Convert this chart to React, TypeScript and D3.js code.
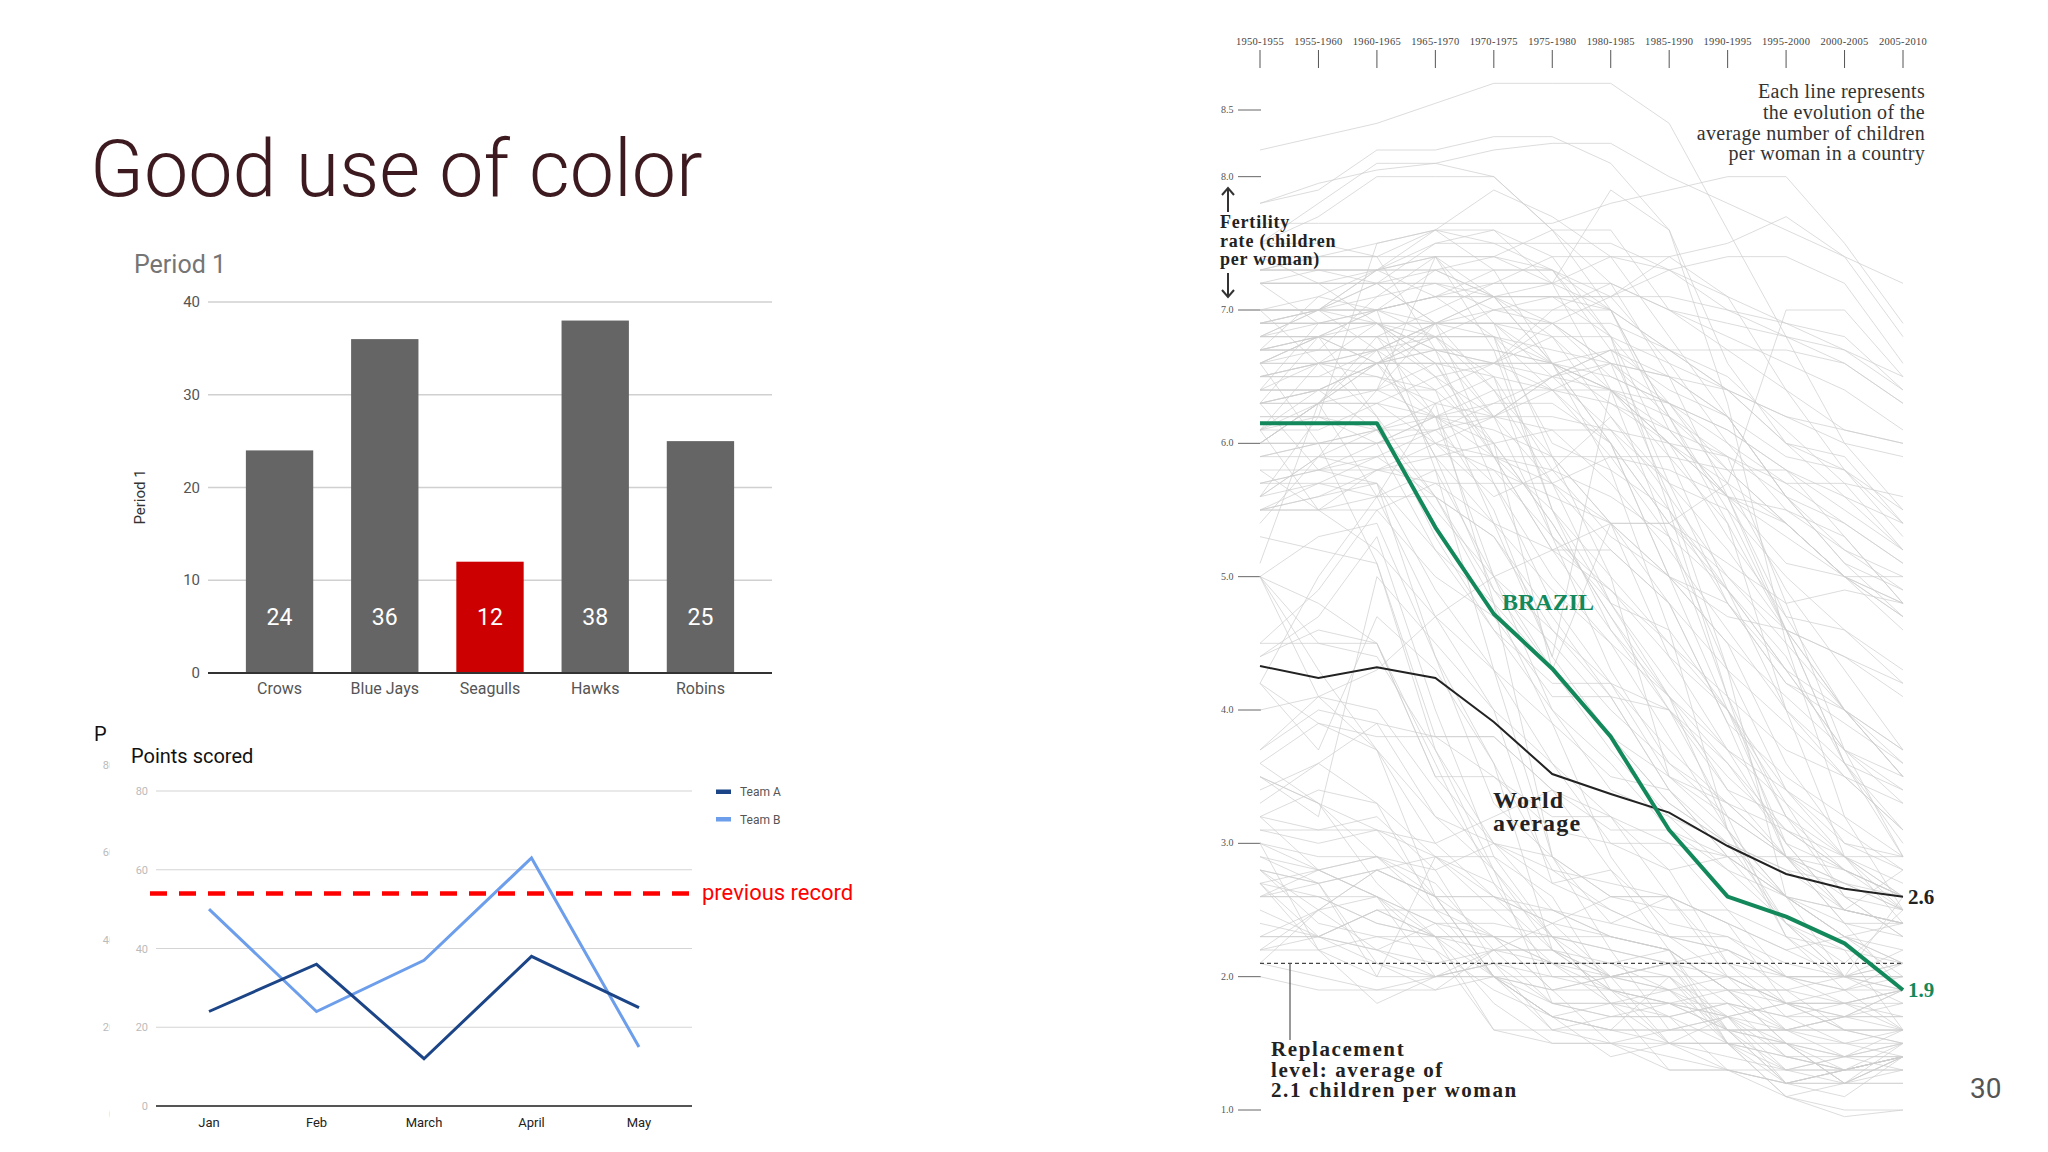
import React from "react";
import * as d3 from "d3";

// ---------- Bar chart data ----------
const BAR_CATEGORIES = ["Crows", "Blue Jays", "Seagulls", "Hawks", "Robins"];
const BAR_VALUES = [24, 36, 12, 38, 25];
const BAR_HIGHLIGHT = "Seagulls";
const BAR_TICKS = [0, 10, 20, 30, 40];

// ---------- Line chart data ----------
const MONTHS = ["Jan", "Feb", "March", "April", "May"];
const TEAM_A = [24, 36, 12, 38, 25];
const TEAM_B = [50, 24, 37, 63, 15];
const PREVIOUS_RECORD = 54;
const LINE_TICKS = [0, 20, 40, 60, 80];

// ---------- Fertility chart data ----------
const PERIODS = [
  "1950-1955", "1955-1960", "1960-1965", "1965-1970", "1970-1975", "1975-1980",
  "1980-1985", "1985-1990", "1990-1995", "1995-2000", "2000-2005", "2005-2010",
];
const FERT_TICKS = [8.5, 8.0, 7.0, 6.0, 5.0, 4.0, 3.0, 2.0, 1.0];
const BRAZIL = [6.15, 6.15, 6.15, 5.37, 4.72, 4.31, 3.8, 3.1, 2.6, 2.45, 2.25, 1.9];
const WORLD = [4.33, 4.24, 4.32, 4.24, 3.91, 3.52, 3.37, 3.23, 2.98, 2.77, 2.66, 2.6];
const REPLACEMENT = 2.1;
const COUNTRIES: number[][] = [
  [8.2, 8.3, 8.4, 8.55, 8.7, 8.7, 8.7, 8.4, 7.6, 6.8, 6.0, 5.5],
  [7.8, 7.95, 8.05, 8.1, 8.2, 8.25, 8.25, 8.0, 7.8, 7.6, 7.4, 7.2],
  [7.5, 7.7, 8.0, 8.0, 8.0, 7.6, 7.0, 6.2, 5.4, 4.6, 4.0, 3.7],
  [7.65, 7.65, 7.65, 7.65, 7.65, 7.65, 7.8, 7.9, 8.0, 8.0, 7.5, 6.9],
  [7.8, 7.9, 8.2, 8.2, 8.3, 8.3, 8.1, 7.6, 6.6, 6.0, 5.9, 5.4],
  [7.5, 7.8, 8.1, 8.1, 8.0, 7.6, 7.2, 6.5, 5.6, 5.1, 5.0, 4.8],
  [6.9, 7.0, 7.0, 7.1, 7.1, 7.1, 7.1, 7.1, 7.0, 6.9, 6.7, 6.4],
  [6.9, 6.9, 7.0, 7.1, 7.2, 7.2, 7.2, 7.0, 6.9, 6.8, 6.7, 6.5],
  [7.2, 6.9, 6.9, 6.9, 7.1, 7.2, 7.4, 7.4, 7.1, 6.4, 5.8, 5.3],
  [6.4, 6.4, 6.4, 6.4, 6.6, 6.8, 6.8, 6.6, 6.4, 6.2, 6.1, 6.0],
  [6.0, 6.0, 6.0, 6.2, 6.3, 6.5, 6.7, 6.7, 6.7, 6.7, 6.6, 6.3],
  [6.6, 6.6, 6.6, 6.6, 6.6, 6.6, 6.5, 6.3, 5.7, 4.9, 4.3, 3.7],
  [6.4, 6.6, 6.7, 6.9, 6.9, 6.6, 6.0, 5.0, 4.0, 3.4, 2.9, 2.5],
  [5.9, 5.9, 5.8, 5.7, 5.4, 4.9, 4.5, 4.1, 3.7, 3.4, 3.1, 2.8],
  [6.1, 5.5, 5.6, 6.3, 4.8, 2.9, 2.6, 2.6, 2.0, 1.8, 1.7, 1.6],
  [5.5, 5.7, 5.6, 5.6, 5.3, 4.7, 4.1, 3.4, 2.9, 2.6, 2.5, 2.4],
  [6.9, 6.9, 6.9, 6.7, 6.2, 6.5, 6.6, 5.6, 4.3, 2.6, 2.0, 1.8],
  [6.7, 6.8, 6.8, 6.8, 6.5, 5.3, 4.3, 3.6, 3.2, 2.9, 2.5, 2.4],
  [6.6, 6.8, 6.6, 6.2, 5.9, 5.7, 5.4, 4.8, 3.9, 3.5, 3.2, 2.9],
  [6.6, 6.6, 6.2, 5.6, 5.3, 4.6, 4.1, 3.4, 2.9, 2.6, 2.3, 2.2],
  [5.4, 5.9, 6.4, 7.4, 6.7, 5.5, 4.6, 4.0, 3.2, 2.3, 1.9, 1.9],
  [7.4, 7.2, 6.9, 6.5, 5.9, 5.2, 4.9, 4.5, 4.1, 3.7, 3.5, 3.3],
  [6.1, 6.4, 6.1, 5.6, 4.8, 3.9, 2.9, 2.3, 2.0, 1.8, 1.6, 1.6],
  [5.1, 6.3, 5.6, 4.7, 4.3, 2.9, 2.2, 1.6, 1.7, 1.5, 1.2, 1.2],
  [3.0, 2.2, 2.0, 2.0, 2.1, 1.8, 1.8, 1.7, 1.5, 1.4, 1.3, 1.3],
  [3.3, 3.6, 3.3, 2.5, 2.0, 1.8, 1.8, 1.9, 2.0, 2.0, 2.0, 2.1],
  [2.2, 2.5, 2.8, 2.6, 2.0, 1.7, 1.8, 1.8, 1.8, 1.7, 1.7, 1.9],
  [2.8, 2.7, 2.8, 2.6, 2.3, 1.9, 1.9, 1.8, 1.7, 1.8, 1.9, 2.0],
  [2.2, 2.3, 2.5, 2.3, 1.6, 1.5, 1.5, 1.4, 1.3, 1.3, 1.4, 1.4],
  [2.4, 2.3, 2.5, 2.5, 2.3, 1.9, 1.5, 1.3, 1.3, 1.2, 1.3, 1.4],
  [2.6, 2.7, 2.8, 2.9, 2.9, 2.6, 1.9, 1.5, 1.3, 1.2, 1.3, 1.4],
  [2.9, 2.8, 2.6, 2.0, 2.0, 1.9, 2.0, 2.1, 1.5, 1.2, 1.3, 1.4],
  [3.6, 3.3, 2.7, 2.3, 2.3, 2.3, 2.3, 2.2, 1.9, 1.5, 1.3, 1.4],
  [2.8, 2.7, 2.1, 2.0, 2.1, 2.0, 2.0, 2.0, 1.6, 1.2, 1.1, 1.4],
  [3.2, 3.1, 3.1, 3.0, 3.2, 3.4, 3.2, 3.0, 2.9, 2.6, 2.4, 2.3],
  [5.0, 5.3, 5.4, 4.4, 3.6, 2.8, 2.7, 2.6, 2.4, 2.2, 2.0, 1.9],
  [6.8, 6.8, 6.8, 6.2, 5.0, 4.3, 3.7, 3.2, 3.0, 2.8, 2.5, 2.4],
  [6.9, 6.9, 6.9, 6.6, 6.0, 5.4, 4.7, 4.1, 3.6, 3.1, 2.8, 2.6],
  [7.0, 6.6, 6.5, 6.3, 6.2, 6.2, 6.1, 5.7, 5.5, 5.0, 4.6, 4.2],
  [6.8, 6.8, 6.6, 6.6, 6.5, 5.8, 5.3, 5.0, 4.8, 4.3, 4.0, 3.5],
  [7.3, 7.4, 7.4, 7.6, 7.6, 7.2, 6.4, 5.3, 4.1, 2.9, 2.4, 2.4],
  [7.2, 7.2, 7.2, 6.9, 6.4, 5.9, 5.4, 4.4, 3.7, 3.0, 2.5, 2.4],
  [7.2, 7.2, 7.2, 7.3, 7.3, 7.3, 7.0, 6.2, 5.5, 4.6, 3.6, 3.0],
  [7.3, 7.4, 7.5, 7.6, 7.5, 7.3, 6.8, 5.9, 4.9, 4.0, 3.5, 3.1],
  [6.9, 7.0, 7.2, 7.5, 7.6, 7.4, 6.8, 5.5, 4.1, 3.2, 2.9, 2.7],
  [7.2, 7.2, 7.2, 7.2, 7.2, 7.2, 7.9, 7.6, 6.3, 4.5, 3.2, 2.5],
  [7.2, 7.2, 7.3, 7.4, 6.9, 5.9, 5.0, 3.5, 3.2, 2.9, 2.6, 2.3],
  [6.4, 6.9, 6.9, 6.9, 6.9, 6.8, 6.4, 6.0, 5.3, 4.7, 4.6, 4.3],
  [6.7, 6.8, 6.8, 6.8, 6.8, 6.7, 6.6, 6.3, 6.0, 5.7, 5.7, 5.6],
  [6.1, 6.2, 6.1, 5.5, 5.0, 4.6, 4.2, 3.5, 3.3, 2.9, 2.8, 2.6],
  [6.8, 7.0, 7.3, 7.4, 7.4, 7.3, 6.7, 5.7, 4.8, 4.2, 4.0, 3.7],
  [6.7, 6.7, 6.7, 6.9, 6.9, 6.9, 6.6, 6.2, 5.8, 5.4, 5.0, 4.6],
  [7.3, 7.3, 7.3, 7.3, 7.1, 7.1, 7.1, 7.4, 7.5, 7.7, 7.4, 6.8],
  [7.0, 7.1, 7.3, 7.5, 7.5, 7.5, 7.5, 7.3, 7.1, 6.9, 6.8, 6.4],
  [6.8, 6.9, 7.0, 7.3, 7.4, 7.6, 7.6, 7.0, 6.7, 6.4, 6.1, 6.0],
  [6.1, 6.3, 6.4, 6.6, 6.6, 7.0, 7.2, 7.0, 6.8, 6.6, 6.4, 6.1],
  [4.2, 3.7, 4.7, 4.3, 3.6, 2.2, 1.9, 1.8, 1.6, 1.6, 1.6, 1.5],
  [3.6, 3.9, 3.7, 2.6, 2.0, 1.7, 1.6, 1.6, 1.7, 1.6, 1.5, 1.6],
  [3.2, 3.4, 3.3, 2.9, 2.5, 2.1, 1.9, 1.9, 1.9, 1.8, 1.8, 1.9],
  [2.2, 2.2, 2.3, 2.2, 1.9, 1.7, 1.6, 2.0, 2.0, 1.6, 1.7, 1.9],
  [3.1, 3.1, 3.2, 2.8, 2.1, 1.6, 1.5, 1.6, 1.6, 1.6, 1.7, 1.7],
  [2.3, 2.3, 2.2, 2.4, 2.3, 2.3, 2.0, 1.5, 1.4, 1.3, 1.3, 1.5],
  [2.7, 2.2, 1.8, 2.0, 2.1, 2.1, 1.8, 1.8, 1.7, 1.4, 1.3, 1.3],
  [2.9, 2.7, 2.0, 2.9, 2.6, 2.5, 2.3, 2.2, 1.5, 1.3, 1.3, 1.4],
  [6.0, 6.0, 6.0, 6.0, 5.9, 5.8, 5.6, 5.3, 4.9, 4.4, 3.6, 2.9],
  [6.0, 6.0, 6.1, 6.1, 5.7, 5.0, 4.5, 3.8, 3.1, 2.6, 2.3, 2.1],
  [5.8, 5.5, 5.2, 4.7, 4.0, 3.6, 3.2, 2.6, 2.4, 2.2, 2.3, 2.4],
  [6.3, 6.3, 6.3, 6.0, 5.6, 5.8, 6.2, 5.7, 5.2, 4.6, 4.0, 3.5],
  [6.6, 6.0, 5.1, 3.7, 2.8, 1.8, 1.7, 1.7, 1.8, 1.6, 1.4, 1.3],
  [4.4, 4.7, 5.3, 4.0, 2.9, 2.3, 1.8, 1.3, 1.3, 1.1, 1.0, 1.0],
  [5.9, 6.0, 6.0, 6.2, 6.4, 6.4, 6.4, 6.2, 5.9, 4.8, 3.7, 2.9],
  [6.3, 6.3, 6.3, 6.2, 5.5, 4.4, 6.4, 6.0, 5.6, 4.6, 3.6, 3.1],
  [7.3, 7.3, 7.2, 7.2, 7.1, 6.6, 6.4, 6.0, 5.7, 5.4, 5.0, 4.7],
  [4.2, 3.9, 3.8, 3.8, 3.8, 3.4, 3.1, 3.1, 2.9, 2.9, 2.9, 2.9],
  [5.6, 6.2, 7.5, 7.6, 7.3, 6.6, 5.8, 4.6, 3.1, 2.4, 2.1, 2.5],
  [4.4, 4.6, 4.5, 3.5, 3.5, 3.1, 3.0, 3.0, 2.5, 2.0, 2.0, 2.6],
  [6.7, 6.7, 6.7, 6.4, 6.0, 5.4, 4.7, 4.0, 3.4, 3.2, 2.8, 2.6],
  [6.5, 6.5, 6.7, 5.9, 4.9, 4.5, 4.0, 3.6, 3.3, 2.9, 2.7, 2.5],
  [7.5, 7.5, 7.4, 7.4, 7.1, 6.6, 6.0, 5.4, 4.9, 4.3, 3.7, 3.3],
  [7.2, 7.3, 7.3, 7.1, 6.8, 6.4, 6.0, 5.0, 4.5, 3.6, 3.0, 2.8],
  [6.0, 6.3, 6.7, 6.8, 6.8, 6.0, 5.8, 5.5, 4.9, 4.3, 3.7, 3.5],
  [6.0, 6.3, 6.6, 6.0, 5.8, 5.3, 4.9, 4.4, 4.0, 3.2, 2.6, 2.5],
  [6.2, 6.2, 6.2, 6.2, 6.1, 5.9, 5.4, 5.0, 4.7, 4.6, 4.4, 4.1],
  [6.6, 6.8, 7.0, 7.1, 7.3, 7.3, 7.1, 6.6, 6.0, 5.5, 5.2, 5.0],
  [5.5, 5.6, 5.8, 6.0, 6.2, 6.5, 6.7, 6.4, 6.2, 5.6, 5.2, 4.9],
  [6.8, 7.0, 7.3, 7.6, 7.9, 7.7, 7.4, 6.8, 6.2, 5.6, 5.1, 4.9],
  [6.6, 6.7, 7.1, 7.4, 7.4, 7.2, 7.0, 6.7, 6.4, 6.2, 6.0, 5.9],
  [6.5, 6.6, 6.6, 6.6, 6.6, 6.5, 6.4, 6.3, 6.1, 5.8, 5.5, 5.2],
  [7.3, 7.3, 7.3, 7.3, 7.1, 6.9, 6.5, 6.3, 6.1, 5.8, 5.3, 4.8],
  [6.1, 6.1, 6.3, 6.5, 6.6, 6.9, 7.1, 7.3, 7.4, 7.4, 7.2, 6.6],
  [3.1, 3.0, 3.1, 2.9, 2.7, 2.3, 1.8, 1.5, 1.5, 1.5, 1.5, 1.4],
  [3.4, 3.6, 3.9, 3.8, 3.8, 3.4, 2.8, 2.2, 1.9, 1.9, 2.0, 2.0],
  [2.6, 2.6, 2.4, 2.3, 2.3, 2.1, 2.1, 2.0, 1.7, 1.3, 1.2, 1.4],
  [2.5, 2.3, 2.2, 2.1, 2.2, 2.2, 2.0, 1.9, 1.5, 1.1, 1.2, 1.5],
  [2.7, 2.3, 2.1, 1.9, 2.2, 2.4, 2.0, 1.9, 1.7, 1.2, 1.2, 1.4],
  [2.7, 2.8, 2.9, 2.8, 3.0, 2.9, 2.6, 2.5, 2.5, 2.3, 2.2, 2.1],
  [6.2, 6.2, 6.0, 5.2, 4.6, 4.2, 4.2, 4.0, 3.5, 3.1, 2.9, 2.6],
  [6.9, 7.0, 7.0, 6.8, 6.2, 5.7, 4.8, 4.1, 3.1, 2.3, 2.0, 2.0],
  [2.1, 2.5, 2.8, 2.6, 2.0, 1.6, 1.6, 1.5, 1.5, 1.4, 1.4, 1.4],
  [2.3, 2.3, 2.5, 2.3, 1.8, 1.5, 1.5, 1.5, 1.5, 1.5, 1.4, 1.5],
  [2.3, 2.5, 2.6, 2.4, 2.0, 1.7, 1.6, 1.6, 1.6, 1.6, 1.7, 1.8],
  [2.6, 2.6, 2.6, 2.3, 2.0, 1.7, 1.4, 1.5, 1.7, 1.8, 1.8, 1.9],
  [2.6, 2.8, 2.9, 2.7, 2.2, 1.8, 1.7, 1.8, 1.9, 1.9, 1.8, 1.9],
  [3.0, 2.8, 2.6, 2.2, 1.6, 1.6, 1.7, 1.7, 1.8, 1.7, 1.8, 1.8],
  [3.2, 2.8, 2.6, 2.4, 2.4, 2.3, 2.2, 2.1, 2.0, 1.8, 1.6, 1.6],
  [2.8, 2.5, 2.2, 2.0, 2.0, 2.0, 1.9, 1.8, 1.6, 1.5, 1.4, 1.5],
  [3.5, 3.3, 2.9, 2.5, 2.5, 2.5, 2.3, 2.2, 1.9, 1.5, 1.2, 1.3],
  [2.7, 2.6, 2.4, 2.3, 2.3, 2.1, 2.0, 2.1, 1.8, 1.4, 1.3, 1.4],
  [2.0, 1.9, 1.9, 1.9, 2.0, 1.9, 2.0, 2.1, 1.6, 1.2, 1.3, 1.4],
  [3.0, 2.9, 2.9, 2.6, 2.6, 2.4, 2.3, 2.2, 1.9, 1.6, 1.6, 1.6],
  [4.5, 4.5, 4.5, 3.5, 3.0, 2.5, 2.4, 2.6, 2.4, 1.8, 1.7, 1.7],
  [5.3, 5.2, 5.1, 3.8, 3.5, 3.2, 3.2, 2.8, 2.1, 1.8, 1.8, 1.6],
  [5.0, 4.5, 4.4, 3.7, 3.0, 2.8, 2.5, 2.3, 2.2, 2.0, 1.8, 1.7],
  [6.3, 5.8, 5.7, 4.4, 3.3, 2.9, 2.4, 2.3, 2.3, 2.0, 1.9, 1.6],
  [6.7, 7.1, 7.0, 5.8, 4.3, 3.9, 3.5, 3.4, 3.0, 2.6, 2.3, 2.0],
  [5.7, 5.7, 5.7, 5.2, 4.8, 4.3, 3.8, 3.3, 3.0, 2.4, 2.0, 1.9],
  [3.5, 3.2, 5.0, 4.5, 4.0, 2.7, 2.8, 2.4, 2.3, 2.1, 2.0, 2.0],
  [5.0, 4.8, 4.5, 3.6, 2.7, 2.0, 2.0, 2.0, 1.5, 1.1, 0.95, 1.0],
  [6.3, 6.4, 6.6, 6.8, 7.0, 7.1, 7.0, 6.7, 6.4, 6.0, 5.8, 5.5],
  [6.8, 6.8, 6.8, 7.0, 7.2, 7.4, 7.4, 7.3, 7.0, 6.8, 6.6, 6.3],
  [5.5, 5.5, 5.8, 5.9, 5.9, 5.9, 5.9, 5.8, 5.6, 5.5, 5.3, 4.8],
  [5.7, 5.8, 5.9, 6.1, 6.3, 6.3, 6.0, 5.4, 5.1, 4.8, 4.9, 4.8],
  [7.0, 7.0, 6.9, 6.7, 6.6, 6.6, 6.7, 6.5, 6.2, 5.6, 5.1, 4.7],
  [5.6, 5.9, 6.1, 6.3, 6.5, 6.4, 6.3, 6.1, 5.9, 5.6, 5.4, 5.1],
  [7.0, 7.0, 7.1, 7.2, 7.0, 6.9, 6.6, 6.5, 6.2, 5.9, 5.8, 5.4],
  [5.8, 5.8, 5.8, 5.8, 5.8, 5.6, 5.4, 5.0, 4.5, 4.1, 3.7, 3.4],
  [6.5, 6.6, 6.7, 6.9, 6.9, 6.9, 6.9, 6.7, 6.5, 6.1, 5.7, 5.2],
  [6.3, 6.4, 6.6, 6.8, 6.8, 6.6, 6.3, 6.0, 5.6, 5.4, 5.0, 4.8],
  [5.9, 6.0, 6.1, 6.2, 6.2, 6.1, 5.7, 5.2, 4.6, 4.0, 3.6, 3.4],
  [5.7, 5.8, 6.0, 6.1, 6.2, 6.4, 6.6, 6.5, 6.4, 6.0, 5.6, 5.2],
  [6.6, 6.8, 7.0, 7.1, 7.1, 7.1, 6.8, 6.3, 5.8, 5.4, 5.0, 4.7],
  [6.5, 6.6, 6.6, 6.7, 6.6, 6.4, 5.9, 5.3, 4.3, 3.4, 3.0, 2.9],
  [6.7, 6.8, 6.9, 6.9, 6.9, 6.5, 6.1, 5.5, 4.8, 4.2, 3.9, 3.6],
  [4.0, 4.1, 4.3, 4.7, 5.0, 5.2, 5.4, 5.4, 5.0, 4.5, 4.0, 3.5],
  [6.3, 6.4, 6.6, 6.7, 6.7, 6.6, 6.4, 6.1, 5.6, 4.7, 4.0, 3.6],
  [6.0, 6.3, 6.6, 6.9, 7.0, 7.0, 7.0, 6.1, 5.6, 5.3, 5.0, 5.0],
  [5.5, 5.5, 5.5, 5.7, 5.7, 5.7, 5.9, 5.9, 5.8, 5.8, 5.6, 5.4],
  [5.6, 5.7, 5.9, 5.9, 6.0, 6.1, 6.1, 6.0, 5.9, 5.7, 5.4, 5.1],
  [6.7, 6.7, 6.7, 6.7, 6.7, 6.6, 6.4, 5.9, 5.4, 4.0, 2.9, 2.6],
  [6.4, 6.4, 6.4, 6.2, 6.0, 4.3, 5.4, 5.4, 5.7, 7.0, 7.0, 6.5],
  [6.4, 6.4, 6.4, 6.9, 7.1, 6.8, 6.2, 5.6, 5.0, 4.6, 4.4, 4.2],
  [6.1, 6.6, 6.9, 6.6, 5.9, 5.5, 4.8, 4.2, 3.7, 3.3, 2.6, 2.3],
  [6.5, 6.5, 6.5, 6.4, 5.4, 5.2, 5.2, 4.8, 4.3, 3.9, 3.5, 3.1],
  [7.4, 7.4, 7.4, 6.7, 5.7, 4.8, 4.2, 3.7, 3.3, 3.1, 2.8, 2.6],
  [4.2, 5.0, 5.6, 5.8, 5.0, 4.0, 3.6, 3.1, 2.8, 2.6, 2.5, 2.4],
  [5.6, 5.9, 5.9, 5.6, 4.9, 4.3, 3.8, 3.3, 3.0, 2.8, 2.7, 2.6],
  [6.3, 6.8, 6.2, 5.3, 4.6, 4.0, 3.4, 3.2, 2.8, 2.4, 2.2, 1.6],
  [4.5, 4.9, 5.5, 5.0, 4.7, 4.1, 4.1, 4.0, 3.6, 3.0, 2.5, 2.8],
  [5.5, 5.6, 5.7, 4.9, 4.3, 3.6, 3.0, 2.8, 2.9, 2.4, 2.0, 2.2],
  [6.0, 6.3, 6.8, 6.5, 6.2, 5.3, 4.8, 4.6, 4.0, 3.0, 2.8, 2.5],
  [7.0, 7.0, 7.0, 6.9, 6.8, 5.5, 5.0, 4.5, 4.0, 3.3, 2.9, 2.4],
  [6.9, 6.9, 6.9, 6.8, 6.4, 5.7, 5.2, 4.8, 3.9, 2.9, 2.4, 1.9],
  [7.0, 7.0, 7.2, 6.9, 5.9, 5.2, 4.6, 4.1, 3.4, 2.9, 2.7, 2.5],
  [7.0, 7.0, 6.7, 5.9, 5.4, 4.4, 3.8, 3.5, 3.1, 2.6, 2.3, 2.1],
  [3.7, 4.1, 4.0, 3.4, 2.8, 2.2, 2.0, 2.1, 2.1, 2.0, 1.9, 2.1],
  [3.7, 4.0, 3.9, 3.2, 2.8, 2.3, 2.2, 2.1, 2.2, 2.0, 2.0, 2.1],
  [2.8, 2.4, 2.3, 2.3, 2.2, 2.2, 1.9, 1.7, 1.3, 1.2, 1.2, 1.4],
  [3.5, 3.3, 3.1, 2.6, 2.6, 2.4, 2.6, 2.6, 2.1, 1.7, 1.5, 1.5],
  [2.1, 2.0, 1.9, 2.0, 2.2, 2.1, 2.1, 2.2, 1.6, 1.3, 1.4, 1.6],
  [5.0, 4.1, 3.7, 3.2, 3.0, 2.7, 2.5, 2.3, 2.2, 1.9, 1.6, 1.5],
  [5.0, 4.3, 3.7, 3.0, 2.6, 2.2, 2.1, 1.9, 1.6, 1.5, 1.2, 1.2],
];

const W = 2048;
const H = 1152;
const GREEN = "#13895b";
const SERIF = "'Liberation Serif', 'Times New Roman', serif";
const SANS = "Roboto, 'Noto Sans', sans-serif";

function BarChart() {
  const x = d3.scaleBand<string>().domain(BAR_CATEGORIES).range([208, 772]).paddingInner(0.36).paddingOuter(0.36);
  const y = d3.scaleLinear().domain([0, 40]).range([673, 302]);
  return (
    <g>
      <text x={134} y={273} fontFamily={SANS} fontSize={25} fill="#757575">Period 1</text>
      {BAR_TICKS.map((t) => (
        <g key={t}>
          {t !== 0 && <line x1={208} x2={772} y1={y(t)} y2={y(t)} stroke="#d0d0d0" strokeWidth={1.3} />}
          <text x={200} y={y(t) + 5} textAnchor="end" fontFamily={SANS} fontSize={15} fill="#555">{t}</text>
        </g>
      ))}
      <text transform={`translate(${145},${497}) rotate(-90)`} textAnchor="middle" fontFamily={SANS} fontSize={15} fill="#333">Period 1</text>
      {BAR_CATEGORIES.map((c, i) => (
        <g key={c}>
          <rect x={x(c)} y={y(BAR_VALUES[i])} width={x.bandwidth()} height={y(0) - y(BAR_VALUES[i])}
            fill={c === BAR_HIGHLIGHT ? "#cc0000" : "#666566"} />
          <text x={(x(c) as number) + x.bandwidth() / 2} y={625} textAnchor="middle" fontFamily={SANS} fontSize={23} fill="#fff">{BAR_VALUES[i]}</text>
          <text x={(x(c) as number) + x.bandwidth() / 2} y={694} textAnchor="middle" fontFamily={SANS} fontSize={16} fill="#555">{c}</text>
        </g>
      ))}
      <line x1={208} x2={772} y1={y(0)} y2={y(0)} stroke="#333" strokeWidth={2} />
    </g>
  );
}

function LineChart() {
  const x = d3.scalePoint<string>().domain(MONTHS).range([209, 639]);
  const y = d3.scaleLinear().domain([0, 80]).range([1106, 791]);
  const line = d3.line<number>().x((_, i) => x(MONTHS[i]) as number).y((d) => y(d));
  const ghostY = d3.scaleLinear().domain([0, 80]).range([1122, 773]);
  return (
    <g>
      <defs>
        <clipPath id="ghostClip"><rect x={90} y={700} width={19.5} height={440} /></clipPath>
      </defs>
      <text x={94} y={741} fontFamily={SANS} fontSize={20} fill="#111">P</text>
      <g clipPath="url(#ghostClip)">
        {LINE_TICKS.map((t) => (
          <text key={t} x={115} y={ghostY(t) - 4} textAnchor="end" fontFamily={SANS} fontSize={11} fill="#bbb">{t}</text>
        ))}
      </g>
      <text x={131} y={763} fontFamily={SANS} fontSize={20} fill="#111">Points scored</text>
      {LINE_TICKS.map((t) => (
        <g key={t}>
          <line x1={156} x2={692} y1={y(t)} y2={y(t)} stroke={t === 0 ? "#555" : "#d4d4d4"} strokeWidth={t === 0 ? 2 : 1.2} />
          <text x={148} y={y(t) + 4} textAnchor="end" fontFamily={SANS} fontSize={11} fill="#bbb">{t}</text>
        </g>
      ))}
      {MONTHS.map((m) => (
        <text key={m} x={x(m)} y={1127} textAnchor="middle" fontFamily={SANS} fontSize={13} fill="#222">{m}</text>
      ))}
      <path d={line(TEAM_B) as string} fill="none" stroke="#6d9eeb" strokeWidth={3} />
      <path d={line(TEAM_A) as string} fill="none" stroke="#1c4587" strokeWidth={3} />
      <line x1={150} x2={698} y1={y(PREVIOUS_RECORD)} y2={y(PREVIOUS_RECORD)} stroke="#ff0000" strokeWidth={4.5} strokeDasharray="17 12" />
      <text x={702} y={900} fontFamily={SANS} fontSize={22} fill="#ff0000">previous record</text>
      <rect x={716} y={789.5} width={15} height={4.5} fill="#1c4587" />
      <text x={740} y={796} fontFamily={SANS} fontSize={12} fill="#555">Team A</text>
      <rect x={716} y={817} width={15} height={4.5} fill="#6d9eeb" />
      <text x={740} y={824} fontFamily={SANS} fontSize={12} fill="#555">Team B</text>
    </g>
  );
}

function FertilityChart() {
  const x = d3.scalePoint<string>().domain(PERIODS).range([1260, 1903]);
  const y = d3.scaleLinear().domain([1, 8.5]).range([1110, 110]);
  const line = d3.line<number>().x((_, i) => x(PERIODS[i]) as number).y((d) => y(d));
  const fmt = d3.format(".1f");
  const xEnd = x(PERIODS[PERIODS.length - 1]) as number;
  return (
    <g>
      {PERIODS.map((p) => (
        <g key={p}>
          <text x={x(p)} y={45} textAnchor="middle" fontFamily={SERIF} fontSize={10.5} letterSpacing={0.3} fill="#444">{p}</text>
          <line x1={x(p)} x2={x(p)} y1={50} y2={68} stroke="#555" strokeWidth={1} />
        </g>
      ))}
      {FERT_TICKS.map((t) => (
        <g key={t}>
          <line x1={1238} x2={1261} y1={y(t)} y2={y(t)} stroke="#666" strokeWidth={1} />
          <text x={1221} y={y(t) + 3} fontFamily={SERIF} fontSize={10} fill="#555">{fmt(t)}</text>
        </g>
      ))}
      <g>
        {COUNTRIES.map((c, i) => (
          <path key={i} d={line(c) as string} fill="none" stroke="#cdcdcd" strokeOpacity={0.7} strokeWidth={1} />
        ))}
      </g>
      <line x1={1260} x2={xEnd} y1={y(REPLACEMENT)} y2={y(REPLACEMENT)} stroke="#444" strokeWidth={1.2} strokeDasharray="4 3" />
      <line x1={1290} x2={1290} y1={y(REPLACEMENT)} y2={1040} stroke="#555" strokeWidth={1.2} />
      <path d={line(WORLD) as string} fill="none" stroke="#222" strokeWidth={2} />
      <path d={line(BRAZIL) as string} fill="none" stroke={GREEN} strokeWidth={4} strokeLinejoin="round" />

      {/* axis title with arrows */}
      <line x1={1228} x2={1228} y1={189} y2={212} stroke="#333" strokeWidth={2} />
      <path d="M1222,195 L1228,188 L1234,195" fill="none" stroke="#333" strokeWidth={2} />
      <line x1={1228} x2={1228} y1={273} y2={296} stroke="#333" strokeWidth={2} />
      <path d="M1222,290 L1228,297 L1234,290" fill="none" stroke="#333" strokeWidth={2} />
      <text fontFamily={SERIF} fontWeight="bold" fontSize={18} letterSpacing={0.8} fill="#222">
        <tspan x={1220} y={228}>Fertility</tspan>
        <tspan x={1220} y={246.5}>rate (children</tspan>
        <tspan x={1220} y={265}>per woman)</tspan>
      </text>

      <text fontFamily={SERIF} fontSize={20} letterSpacing={0.3} fill="#333" textAnchor="end">
        <tspan x={1925} y={98}>Each line represents</tspan>
        <tspan x={1925} y={119}>the evolution of the</tspan>
        <tspan x={1925} y={140}>average number of children</tspan>
        <tspan x={1925} y={160}>per woman in a country</tspan>
      </text>

      <text x={1502} y={610} fontFamily={SERIF} fontWeight="bold" fontSize={24} fill={GREEN}>BRAZIL</text>
      <text fontFamily={SERIF} fontWeight="bold" fontSize={24} letterSpacing={1.2} fill="#222">
        <tspan x={1493} y={808}>World</tspan>
        <tspan x={1493} y={831}>average</tspan>
      </text>
      <text x={1908} y={904} fontFamily={SERIF} fontWeight="bold" fontSize={21} fill="#222">{fmt(WORLD[WORLD.length - 1])}</text>
      <text x={1908} y={997} fontFamily={SERIF} fontWeight="bold" fontSize={21} fill={GREEN}>{fmt(BRAZIL[BRAZIL.length - 1])}</text>

      <text fontFamily={SERIF} fontWeight="bold" fontSize={21} letterSpacing={1.6} fill="#222">
        <tspan x={1271} y={1056}>Replacement</tspan>
        <tspan x={1271} y={1076.5}>level: average of</tspan>
        <tspan x={1271} y={1097}>2.1 children per woman</tspan>
      </text>
    </g>
  );
}

export default function App() {
  return (
    <svg width={W} height={H} viewBox={`0 0 ${W} ${H}`} style={{ position: "absolute", left: 0, top: 0, background: "#fff" }}>
      <rect width={W} height={H} fill="#fff" />
      <text x={90} y={196} fontFamily={SANS} fontWeight={300} fontSize={79} fill="#3c1a1f">Good use of color</text>
      <BarChart />
      <LineChart />
      <FertilityChart />
      <text x={1970} y={1098} fontFamily={SANS} fontSize={28} fill="#555">30</text>
    </svg>
  );
}
